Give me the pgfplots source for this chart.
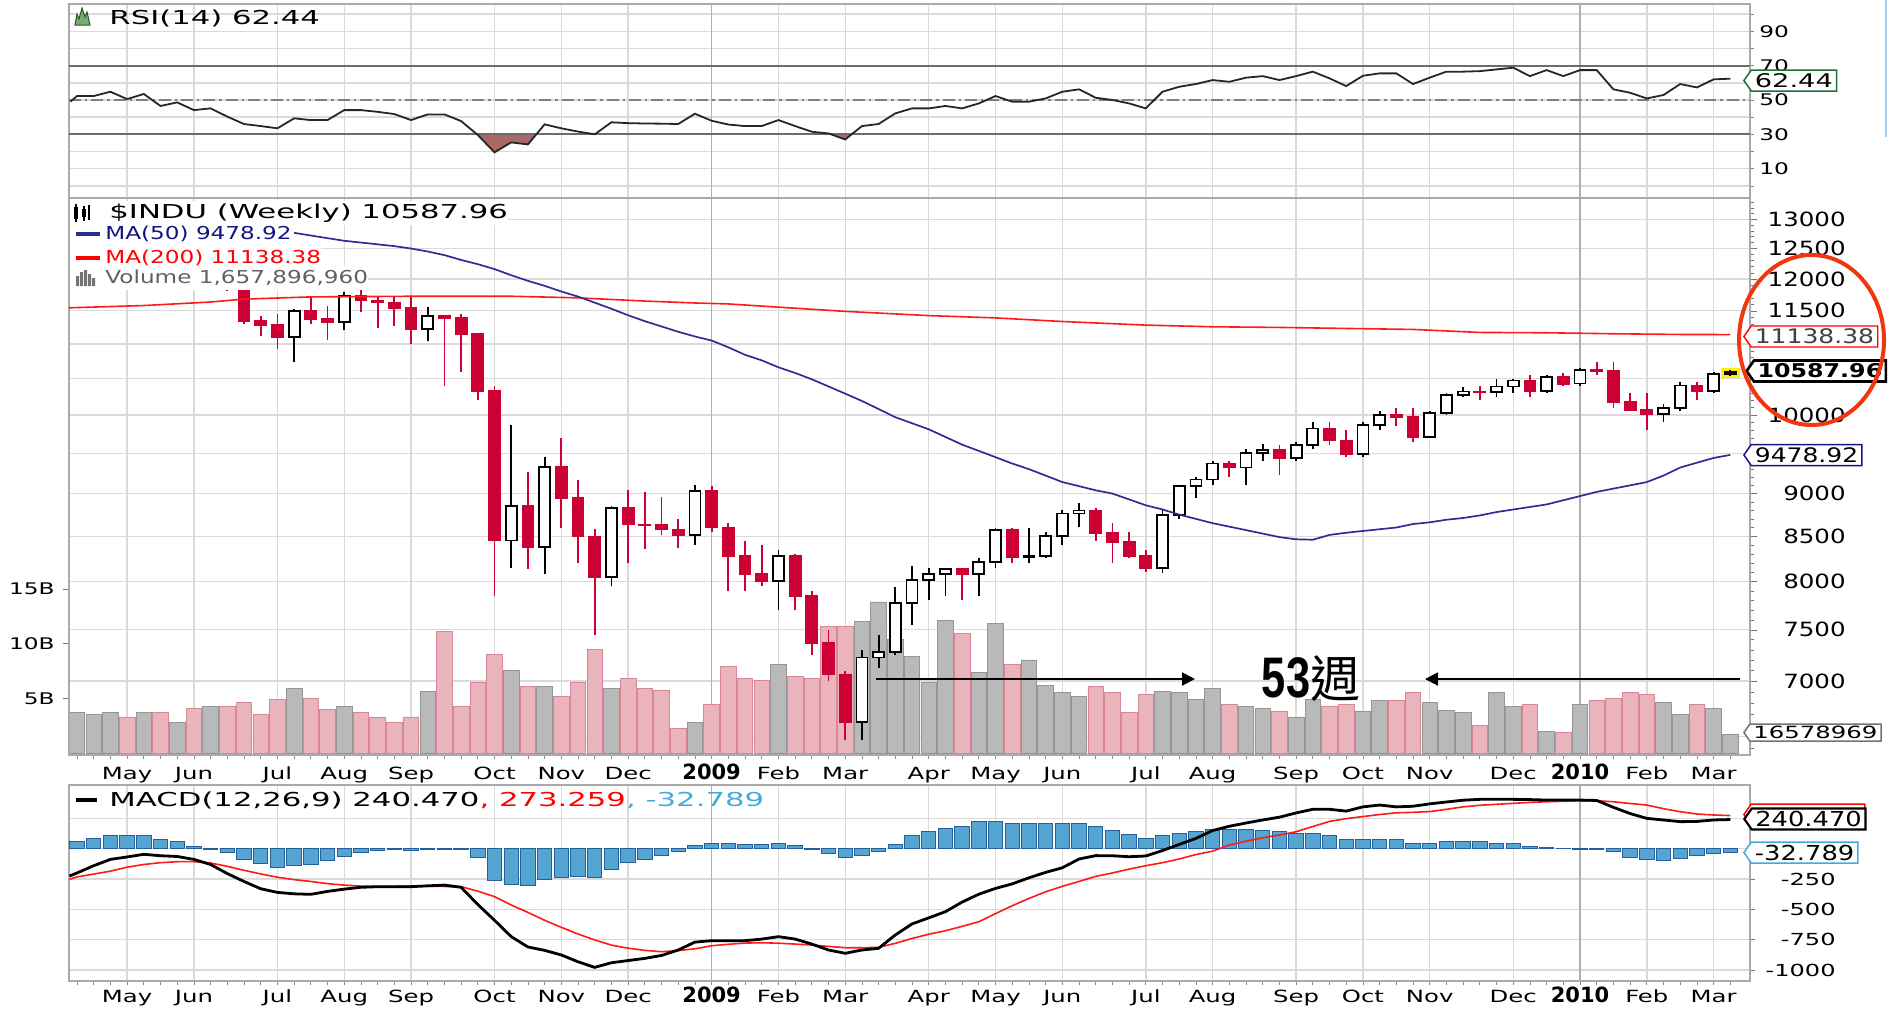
\documentclass[border=0pt]{standalone}
\usepackage{fontspec}
\usepackage{graphicx}
\usepackage{pgfplots}
\usepackage{pgfplotstable}
\pgfplotsset{compat=1.18}
\usetikzlibrary{shapes.symbols,arrows.meta}
\setmainfont{DejaVu Sans}
\newfontfamily\fa[FakeStretch=1.25]{DejaVu Sans}
\newfontfamily\fb[FakeStretch=1.45]{DejaVu Sans}
\newfontfamily\fc[FakeStretch=1.6]{DejaVu Sans}
\newfontfamily\fd[FakeStretch=1.3]{DejaVu Sans}
\newfontfamily\fy{DejaVu Sans}
\newfontfamily\fbig{Liberation Sans}
\newfontfamily\cjk{Noto Sans CJK TC}

\definecolor{crim}{RGB}{204,0,51}
\definecolor{navyl}{RGB}{45,45,150}
\definecolor{navyt}{RGB}{20,20,130}
\definecolor{mared}{RGB}{255,25,25}
\definecolor{gridc}{RGB}{218,218,218}
\definecolor{yeargrid}{RGB}{175,175,175}
\definecolor{framec}{RGB}{170,170,170}
\definecolor{volgray}{RGB}{185,185,185}
\definecolor{volgrayd}{RGB}{150,150,150}
\definecolor{volpink}{RGB}{234,180,188}
\definecolor{volpinkd}{RGB}{215,135,150}
\definecolor{histf}{RGB}{85,165,210}
\definecolor{histd}{RGB}{35,95,155}
\definecolor{rsifill}{RGB}{170,105,105}
\definecolor{ltblue}{RGB}{70,170,220}
\definecolor{circ}{RGB}{240,55,15}
\definecolor{tagg}{RGB}{30,110,60}
\definecolor{hiyel}{RGB}{255,240,0}
\definecolor{edgeblue}{RGB}{160,205,240}
\definecolor{rsiicon}{RGB}{120,170,120}
\definecolor{rsiicond}{RGB}{40,90,40}
\definecolor{ma50tag}{RGB}{20,20,140}

% ---------- weekly candles (up weeks) ----------
\pgfplotstableread{
i o h l c
0 12581 12900 12300 12849
1 12848 12950 12700 12891
2 12890 13170 12740 13058
4 12746 13000 12600 12986
6 12479 12700 12400 12638
8 12210 12400 12100 12307
13 11100 11530 10730 11496
16 11326 11785 11200 11734
21 11221 11550 11050 11421
26 8452 9860 8150 8852
28 8376 9450 8080 9325
32 8046 8850 7950 8829
37 8515 9100 8400 9034
42 8001 8350 7700 8280
47 6626 7300 6470 7224
48 7224 7450 7120 7279
49 7278 7940 7250 7776
50 7776 8170 7550 8018
51 8017 8150 7800 8083
52 8083 8150 7850 8131
54 8076 8250 7850 8212
55 8212 8600 8150 8575
57 8268 8600 8200 8277
58 8277 8550 8250 8500
59 8500 8800 8400 8764
60 8764 8888 8606 8799
65 8147 8800 8090 8744
66 8743 9100 8700 9093
67 9093 9200 8950 9172
68 9172 9400 9100 9370
70 9321 9550 9100 9505
71 9505 9620 9400 9544
73 9441 9650 9400 9606
74 9605 9900 9550 9820
77 9487 9900 9450 9865
78 9865 10050 9800 9996
81 9713 10050 9700 10023
82 10023 10300 10000 10271
83 10271 10380 10250 10319
85 10309 10500 10250 10389
86 10388 10500 10300 10472
88 10328 10550 10300 10521
90 10430 10650 10400 10618
95 10013 10150 9900 10099
96 10098 10450 10050 10402
98 10326 10600 10300 10567
99 10567 10620 10540 10588
}\uptab
% ---------- weekly candles (down weeks) ----------
\pgfplotstableread{
i o h l c
3 13057 13100 12700 12745
5 12986 13100 12450 12480
7 12637 12700 12180 12210
9 12306 12420 11800 11843
10 11842 12000 11300 11347
11 11346 11420 11120 11288
12 11289 11450 10920 11100
14 11496 11718 11300 11370
15 11370 11580 11060 11326
17 11734 11844 11476 11659
18 11659 11730 11232 11628
19 11628 11730 11260 11543
20 11545 11730 11000 11220
22 11420 11420 10400 11388
23 11388 11450 10600 11143
24 11143 11160 10200 10325
25 10322 10400 7850 8451
27 8852 9270 8130 8378
29 9323 9690 8600 8943
30 8943 9160 8200 8497
31 8497 8580 7450 8046
33 8828 9040 8200 8635
34 8635 9020 8360 8629
35 8629 8960 8510 8579
36 8578 8700 8370 8515
38 9034 9090 8550 8599
39 8599 8650 7900 8281
40 8281 8450 7900 8077
41 8077 8400 7950 8001
43 8280 8300 7700 7850
44 7850 7900 7250 7366
45 7366 7500 7000 7063
46 7063 7100 6470 6627
53 8131 8150 7800 8076
56 8575 8600 8200 8268
61 8799 8830 8450 8539
62 8539 8650 8200 8438
63 8438 8550 8250 8280
64 8280 8350 8100 8147
69 9370 9400 9200 9321
72 9543 9600 9232 9441
75 9820 9900 9600 9665
76 9665 9800 9450 9488
79 9995 10100 9850 9972
80 9972 10100 9650 9713
84 10319 10400 10200 10310
87 10471 10550 10250 10329
89 10520 10580 10400 10428
91 10618 10730 10550 10610
92 10609 10730 10100 10173
93 10172 10300 10050 10067
94 10068 10300 9800 10012
97 10403 10450 10200 10325
}\downtab
% ---------- moving averages ----------
\pgfplotstableread{
i v
-0.48 11545
4 11580
8 11635
10 11680
14 11715
20 11725
26 11725
30 11700
34 11650
37 11620
39 11605
42 11555
46 11490
51 11425
55 11390
59 11335
64 11280
68 11255
72 11245
76 11230
80 11215
84 11170
88 11165
92 11150
96 11140
99 11138
}\matwo
\pgfplotstableread{
i v
13 12765
14 12720
15 12675
16 12630
17 12600
18 12570
19 12540
20 12500
21 12450
22 12390
23 12310
24 12240
25 12160
26 12060
27 11970
28 11890
29 11800
30 11720
31 11625
32 11530
33 11430
34 11340
35 11260
36 11180
37 11110
38 11050
39 10950
40 10840
41 10760
42 10660
43 10580
44 10490
45 10390
46 10290
47 10190
48 10080
49 9970
50 9890
51 9810
52 9710
53 9610
54 9530
55 9450
56 9370
57 9300
58 9220
59 9140
60 9090
61 9040
62 9000
63 8930
64 8860
65 8810
66 8750
67 8700
68 8650
69 8610
70 8570
71 8530
72 8490
73 8465
74 8460
75 8515
76 8540
77 8560
78 8580
79 8600
80 8640
81 8660
82 8690
83 8710
84 8740
85 8780
86 8810
87 8840
88 8870
89 8920
90 8970
91 9020
92 9060
93 9100
94 9140
95 9220
96 9320
97 9380
98 9440
99 9479
}\mafifty
% ---------- volume (billions) ----------
\pgfplotstableread{
i v
0 3.70
1 3.55
2 3.70
4 3.70
6 2.77
8 4.23
13 5.90
16 4.23
21 5.66
26 7.58
28 6.12
32 5.90
37 2.77
42 8.13
47 12.0
48 13.8
49 10.4
50 8.86
51 6.45
52 12.1
54 7.33
55 11.8
57 8.50
58 6.20
59 5.50
60 5.14
65 5.66
66 5.50
67 4.93
68 5.90
70 4.23
71 4.05
73 3.30
74 4.93
77 3.84
78 4.78
81 4.60
82 3.87
83 3.70
85 5.50
86 4.23
88 2.00
90 4.45
95 4.60
96 3.53
98 4.05
99 1.66
}\volg
\pgfplotstableread{
i v
3 3.30
5 3.70
7 4.05
9 4.23
10 4.60
11 3.53
12 4.93
14 4.99
15 4.02
17 3.70
18 3.30
19 2.77
20 3.30
22 11.10
23 4.23
24 6.45
25 9.04
27 6.12
29 5.20
30 6.45
31 9.47
33 6.85
34 5.90
35 5.69
36 2.22
38 4.45
39 7.88
40 6.82
41 6.60
43 6.97
44 6.82
45 11.6
46 11.6
53 10.9
56 8.10
61 6.05
62 5.50
63 3.68
64 5.36
69 4.45
72 3.84
75 4.23
76 4.45
79 4.78
80 5.50
84 2.56
87 4.45
89 1.85
91 4.78
92 5.00
93 5.50
94 5.36
97 4.45
}\volp
% ---------- RSI(14) ----------
\pgfplotstableread{
i v
-0.4 49.0
0 52.3
1 52.3
2 54.8
3 50.5
4 53.5
5 46.5
6 48.6
7 44.1
8 45.1
9 40.3
10 36.0
11 34.8
12 33.5
13 39.3
14 38.3
15 38.3
16 44.1
17 44.1
18 43.1
19 41.8
20 38.3
21 41.6
22 41.6
23 37.7
24 29.6
25 19.5
26 25.3
27 24.1
28 35.8
29 33.5
30 31.6
31 30.0
32 37.0
33 36.5
34 36.3
35 36.2
36 36.0
37 42.0
38 37.9
39 35.7
40 34.8
41 34.8
42 38.3
43 34.8
44 31.5
45 30.5
46 27.0
47 34.8
48 36.0
49 42.2
50 45.1
51 45.1
52 46.5
53 45.1
54 48.0
55 52.3
56 49.0
57 49.0
58 50.9
59 54.8
60 56.2
61 51.3
62 50.0
63 48.0
64 45.1
65 54.8
66 57.7
67 59.3
68 61.6
69 60.6
70 63.0
71 63.9
72 61.6
73 63.9
74 66.5
75 62.6
76 58.1
77 64.1
78 65.5
79 65.5
80 59.3
81 63.0
82 66.5
83 66.5
84 66.8
85 67.8
86 68.8
87 63.9
88 67.4
89 63.9
90 67.4
91 67.4
92 56.2
93 54.2
94 50.9
95 52.9
96 59.3
97 57.3
98 62.0
99 62.4
}\rsitab
% ---------- MACD ----------
\pgfplotstableread{
i v
-0.45 -225
0 -200
1 -140
2 -88
3 -68
4 -46
5 -58
6 -64
7 -88
8 -130
9 -205
10 -270
11 -330
12 -360
13 -372
14 -376
15 -352
16 -333
17 -318
18 -313
19 -313
20 -313
21 -306
22 -300
23 -318
24 -460
25 -590
26 -725
27 -810
28 -838
29 -876
30 -932
31 -978
32 -940
33 -922
34 -904
35 -880
36 -835
37 -770
38 -758
39 -758
40 -758
41 -745
42 -725
43 -745
44 -786
45 -835
46 -862
47 -835
48 -821
49 -711
50 -620
51 -570
52 -519
53 -440
54 -375
55 -327
56 -290
57 -240
58 -195
59 -157
60 -85
61 -57
62 -58
63 -66
64 -60
65 -15
66 35
67 85
68 150
69 185
70 212
71 237
72 260
73 295
74 325
75 325
76 310
77 345
78 360
79 345
80 350
81 370
82 385
83 400
84 407
85 407
86 407
87 405
88 401
89 401
90 401
91 398
92 341
93 290
94 250
95 237
96 223
97 225
98 237
99 240.47
}\macdtab
\pgfplotstableread{
i v
-0.45 -252
0 -232
1 -209
2 -185
3 -152
4 -130
5 -115
6 -107
7 -107
8 -118
9 -145
10 -178
11 -208
12 -235
13 -255
14 -270
15 -288
16 -300
17 -308
18 -312
19 -310
20 -308
21 -309
22 -311
23 -313
24 -350
25 -395
26 -464
27 -525
28 -590
29 -648
30 -703
31 -752
32 -795
33 -820
34 -838
35 -849
36 -840
37 -825
38 -800
39 -788
40 -778
41 -775
42 -779
43 -786
44 -794
45 -805
46 -816
47 -816
48 -813
49 -780
50 -740
51 -705
52 -676
53 -640
54 -602
55 -535
56 -470
57 -410
58 -355
59 -310
60 -270
61 -228
62 -200
63 -168
64 -140
65 -115
66 -85
67 -48
68 -20
69 30
70 62
71 90
72 113
73 140
74 183
75 225
76 248
77 265
78 282
79 296
80 300
81 306
82 325
83 345
84 358
85 366
86 374
87 382
88 387
89 391
90 395
91 396
92 387
93 373
94 360
95 330
96 305
97 286
98 278
99 273.26
}\sigtab
\pgfplotstableread{
i v
0 58
1 86
2 105
3 105
4 105
5 72
6 58
7 22
8 -4
9 -33
10 -88
11 -121
12 -154
13 -140
14 -129
15 -99
16 -66
17 -33
18 -16
19 -6
20 -16
21 -4
22 -4
23 -4
24 -71
25 -264
26 -291
27 -305
28 -252
29 -236
30 -225
31 -236
32 -170
33 -115
34 -88
35 -52
36 -22
37 28
38 47
39 47
40 36
41 36
42 47
43 28
44 -4
45 -38
46 -71
47 -52
48 -25
49 36
50 105
51 140
52 168
53 187
54 223
55 223
56 204
57 204
58 204
59 204
60 204
61 187
62 154
63 121
64 86
65 105
66 127
67 140
68 160
69 160
70 160
71 154
72 140
73 127
74 127
75 105
76 72
77 72
78 72
79 72
80 39
81 39
82 58
83 58
84 58
85 39
86 39
87 22
88 14
89 4
90 -4
91 -4
92 -25
93 -71
94 -88
95 -99
96 -80
97 -60
98 -38
99 -33
}\histtab

\pgfplotsset{
  panel/.style={anchor=north west, scale only axis, width=840.5pt,
    xmin=-0.48, xmax=100.18,
    axis line style={draw=framec, line width=0.8pt}, clip mode=individual},
  monthgrid/.style={
    xtick={3,7,12,16,20,25,29,33,38,42,46,51,55,59,64,68,73,77,81,86,90,94,98},
    xmajorgrids, grid style={draw=gridc, line width=0.7pt},
    extra x ticks={38,90}, extra x tick labels={},
    extra x tick style={grid=major, major grid style={draw=yeargrid, line width=0.8pt}, major tick length=0pt},
    major x tick style={draw=none}},
  monthlabels/.style={
    xticklabels={May,Jun,Jul,Aug,Sep,Oct,Nov,Dec,{\fy\bfseries\fontsize{10.5}{11}\selectfont 2009},Feb,Mar,Apr,May,Jun,Jul,Aug,Sep,Oct,Nov,Dec,{\fy\bfseries\fontsize{10.5}{11}\selectfont 2010},Feb,Mar},
    xticklabel style={font=\fb\fontsize{8.4}{9}\selectfont, anchor=base, inner sep=0pt},
    minor xtick={0,1,...,99}, xtick pos=left,
    minor x tick style={draw=black!45, line width=0.4pt}, minor tick length=2.2pt},
  errb/.style={draw=none, mark=none, forget plot},
}
\tikzset{tag/.style={shape=signal, signal to=west, signal pointer angle=110, draw, fill=white,
  line width=0.75pt, inner xsep=1.8pt, inner ysep=1pt, minimum height=10.5pt, anchor=west}}

\begin{document}
\begin{tikzpicture}
\useasboundingbox (0,0) rectangle (949.5pt,-504.5pt);
\clip (0,0) rectangle (949.5pt,-504.5pt);

% ================= RSI panel =================
\begin{axis}[panel, monthgrid, at={(34.5pt,-2pt)}, height=97pt,
  ymin=-7.1, ymax=105.9, xticklabels={},
  ymajorgrids, ytick={0,10,...,100}, yticklabels={,10,,30,,50,,70,,90,},
  ytick pos=right, tick align=outside, major tick length=2pt,
  tick style={draw=black!50},
  yticklabel style={font=\fb\fontsize{8}{9}\selectfont, anchor=west, inner sep=0pt, xshift=2.5pt}]
\addplot[draw=none, fill=rsifill] coordinates {(23.95,30) (24,29.6) (25,19.5) (26,25.3) (27,24.1) (27.5,30)};
\addplot[draw=none, fill=rsifill] coordinates {(45.14,30) (46,27.0) (46.385,30)};
\addplot[draw=black!58, line width=0.9pt] coordinates {(-0.48,70) (100.18,70)};
\addplot[draw=black!58, line width=0.9pt] coordinates {(-0.48,30) (100.18,30)};
\addplot[draw=black!50, line width=0.6pt, dash pattern=on 6pt off 2pt on 1.2pt off 2pt] coordinates {(-0.48,50) (100.18,50)};
\addplot[draw=black!85, line width=0.9pt] table[x=i,y=v] {\rsitab};
\end{axis}

% ================= price panel: grid and labels =================
\begin{axis}[panel, monthgrid, monthlabels, at={(34.5pt,-99pt)}, height=278.5pt,
  ymode=log, ymin=6340, ymax=13377,
  xticklabel style={yshift=-8.7pt},
  ymajorgrids, ytick={6500,7000,...,13000},
  yticklabels={,7000,7500,8000,8500,9000,,10000,,,11500,12000,12500,13000},
  minor ytick={6400,6500,...,13300},
  ytick pos=right, tick align=outside, major tick length=3.5pt,
  tick style={draw=black!55},
  yticklabel style={font=\fa\fontsize{9.8}{10}\selectfont, anchor=east, inner sep=0pt, xshift=44.5pt}]
\end{axis}

% ================= volume =================
\begin{axis}[panel, at={(34.5pt,-99pt)}, height=278.5pt,
  ymin=-0.18, ymax=50.68, axis line style={draw=none},
  xtick=\empty, ytick={5,10,15}, yticklabels={5B,10B,15B}, ytick pos=left,
  tick align=outside, major tick length=3pt, tick style={draw=black!55},
  yticklabel style={font=\fb\fontsize{8}{9}\selectfont, anchor=east, inner sep=0pt, xshift=-4pt}]
\addplot[ybar, bar width=7.8pt, bar shift=0pt, fill=volgray, draw=volgrayd, line width=0.4pt] table[x=i,y=v] {\volg};
\addplot[ybar, bar width=7.8pt, bar shift=0pt, fill=volpink, draw=volpinkd, line width=0.4pt] table[x=i,y=v] {\volp};
\end{axis}

% ================= price: candles and averages =================
\begin{axis}[panel, at={(34.5pt,-99pt)}, height=278.5pt,
  ymode=log, ymin=6340, ymax=13377, xtick=\empty, ytick=\empty]
\addplot[errb, error bars/.cd, y dir=plus, y explicit, error mark=none,
  error bar style={draw=hiyel, line width=9.5pt}] coordinates {(99,10504) +- (0,149)};
% down weeks
\addplot[errb, error bars/.cd, y dir=plus, y explicit, error mark=none,
  error bar style={draw=crim, line width=0.9pt}]
  table[x=i, y=l, y error plus expr={\thisrow{h}-\thisrow{l}}] {\downtab};
\addplot[errb, error bars/.cd, y dir=plus, y explicit, error mark=none,
  error bar style={draw=crim, line width=6.4pt}]
  table[x=i, y=c, y error plus expr={\thisrow{o}-\thisrow{c}}] {\downtab};
\addplot[only marks, mark=-, mark size=3.2pt, mark options={draw=crim, line width=0.9pt}, forget plot]
  table[x=i, y=o] {\downtab};
\addplot[only marks, mark=-, mark size=3.2pt, mark options={draw=crim, line width=0.9pt}, forget plot]
  table[x=i, y=c] {\downtab};
% up weeks
\addplot[errb, error bars/.cd, y dir=plus, y explicit, error mark=none,
  error bar style={draw=black, line width=0.9pt}]
  table[x=i, y=l, y error plus expr={\thisrow{h}-\thisrow{l}}] {\uptab};
\addplot[errb, error bars/.cd, y dir=plus, y explicit, error mark=none,
  error bar style={draw=black, line width=6.4pt}]
  table[x=i, y=o, y error plus expr={\thisrow{c}-\thisrow{o}}] {\uptab};
\addplot[errb, error bars/.cd, y dir=plus, y explicit, error mark=none,
  error bar style={draw=white, line width=4.6pt}]
  table[x=i, y=o, y error plus expr={\thisrow{c}-\thisrow{o}}] {\uptab};
\addplot[only marks, mark=-, mark size=3.2pt, mark options={draw=black, line width=0.9pt}, forget plot]
  table[x=i, y=o] {\uptab};
\addplot[only marks, mark=-, mark size=3.2pt, mark options={draw=black, line width=0.9pt}, forget plot]
  table[x=i, y=c] {\uptab};
% moving averages
\addplot[draw=mared, line width=0.8pt] table[x=i,y=v] {\matwo};
\addplot[draw=navyl, line width=0.85pt] table[x=i,y=v] {\mafifty};
\end{axis}

% ================= MACD panel =================
\begin{axis}[panel, monthgrid, monthlabels, at={(34.5pt,-392.5pt)}, height=98pt,
  ymin=-1090.7, ymax=525.1, xticklabel style={yshift=-8.2pt},
  ymajorgrids, ytick={-1000,-750,-500,-250,0,250}, yticklabels={-1000,-750,-500,-250,,},
  ytick pos=right, tick align=outside, major tick length=2.5pt, tick style={draw=black!55},
  yticklabel style={font=\fb\fontsize{8.3}{9}\selectfont, anchor=east, inner sep=0pt, xshift=40.5pt}]
\addplot[ybar, bar width=7.2pt, bar shift=0pt, fill=histf, draw=histd, line width=0.5pt] table[x=i,y=v] {\histtab};
\addplot[draw=mared, line width=0.8pt] table[x=i,y=v] {\sigtab};
\addplot[draw=black, line width=1.4pt] table[x=i,y=v] {\macdtab};
\end{axis}

% ================= annotations (1 unit = 1 px of the reference) =================
\begin{scope}[x=0.5pt, y=-0.5pt]
% RSI legend
\filldraw[fill=rsiicon, draw=rsiicond, line width=0.5pt]
  (75,25) -- (77,14) -- (79,19) -- (82,8) -- (85,17) -- (87,12) -- (90,25) -- cycle;
\node[anchor=west, inner sep=0pt] at (109,18) {\fc\fontsize{9.6}{10}\selectfont RSI(14) 62.44};
% price legend rows (white backgrounds hide what lies under them)
\node[anchor=west, fill=white, inner sep=0pt, minimum height=12pt] at (70,213)
  {\hspace{19.5pt}\fc\fontsize{9.6}{10}\selectfont \$INDU (Weekly) 10587.96\hspace{1pt}};
\node[anchor=west, fill=white, inner sep=0pt, minimum height=12pt] at (70,234)
  {\hspace{17.5pt}\color{navyt}\fd\fontsize{8.9}{10}\selectfont MA(50) 9478.92\hspace{1pt}};
\node[anchor=west, fill=white, inner sep=0pt, minimum height=12pt] at (70,258)
  {\hspace{17.5pt}\color{red}\fd\fontsize{8.9}{10}\selectfont MA(200) 11138.38\hspace{1pt}};
\node[anchor=west, fill=white, inner sep=0pt, minimum height=12pt] at (70,278)
  {\hspace{17.5pt}\color{black!62}\fd\fontsize{8.9}{10}\selectfont Volume 1,657,896,960\hspace{1pt}};
% legend icons
\draw[line width=0.6pt] (76,204) -- (76,222);
\fill (74,207) rectangle (78,219);
\draw[line width=0.6pt] (84,206) -- (84,221);
\fill (82,209) rectangle (86,217);
\draw[line width=0.6pt] (89,205) -- (89,220);
\draw[navyl, line width=1.8pt] (76,234) -- (100,234);
\draw[red, line width=1.8pt] (76,258) -- (100,258);
\fill[black!55] (76,286) rectangle (79,276) (80,286) rectangle (83,272) (84,286) rectangle (87,270) (88,286) rectangle (91,274) (92,286) rectangle (95,278);
% MACD legend
\draw[line width=2pt] (76,800) -- (97,800);
\node[anchor=west, inner sep=0pt] at (109,800) {\fc\fontsize{9.6}{10}\selectfont MACD(12,26,9) 240.470{\color{red}, 273.259}{\color{ltblue}, -32.789}};

% value tags on the right
\node[tag, draw=tagg] at (1743,80.5) {\fb\fontsize{9.4}{10}\selectfont 62.44};
\node[tag, draw=red, line width=0.7pt] at (1743,336.5) {\fa\fontsize{10}{10}\selectfont\color{black!75}11138.38};
\node[tag, draw=black, line width=1.3pt] at (1745,371) {\fa\bfseries\fontsize{9.5}{10}\selectfont 10587.96};
\node[tag, draw=ma50tag] at (1743,455) {\fa\fontsize{10}{10}\selectfont 9478.92};
\node[tag, draw=black!55, minimum height=8.5pt, inner ysep=0.5pt] at (1743,732.5) {\fb\fontsize{8.4}{9}\selectfont 16578969};
\node[tag, draw=red] at (1743,814.5) {\fa\fontsize{10.3}{10}\selectfont\phantom{273.259}};
\node[tag, draw=black, line width=1.1pt] at (1743,819) {\fa\fontsize{10.3}{10}\selectfont 240.470};
\node[tag, draw=ltblue] at (1743,852.5) {\fa\fontsize{10.3}{10}\selectfont -32.789};

% 53-week annotation
\draw[line width=1pt, -{Triangle[length=6.5pt,width=6.5pt]}] (876,679) -- (1195,679);
\draw[line width=1pt, -{Triangle[length=6.5pt,width=6.5pt]}] (1740,679) -- (1425,679);
\node[anchor=base, inner sep=0pt] at (1311,697)
  {{\fbig\bfseries\fontsize{28.6}{29}\selectfont\scalebox{0.76}[1]{53}}{\cjk\fontsize{25}{25}\selectfont 週}};

% red ellipse around the right-hand labels
\draw[circ, line width=2pt] (1811.5,340) ellipse [x radius=72.5, y radius=85];
% thin blue edge at the far right
\draw[edgeblue, line width=0.6pt] (1886,0) -- (1886,137);
\end{scope}
\end{tikzpicture}
\end{document}
